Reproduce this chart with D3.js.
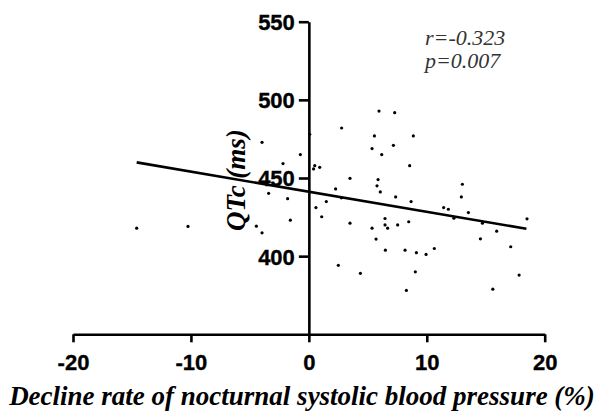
<!DOCTYPE html>
<html>
<head>
<meta charset="utf-8">
<script src="https://cdn.jsdelivr.net/npm/d3@7"></script>
<style>
  body { margin: 0; background: #fff; }
  svg { display: block; }
</style>
</head>
<body>
<svg id="scatter" width="609" height="412"></svg>
<script>
// decline rate of nocturnal SBP (%)
const declineRate = [
  -14.6, -10.25, -3.97, -0.72, -2.19, -3.41, -1.8, -1.57, -4.45, -3.97,
  0.07, 0.4, 0.5, 0.92, 2.78, 5.95, 7.28, 5.56, 8.86, 7.17,
  5.36, 6.18, 8.55, 3.49, 5.87, 5.78, 6.06, 2.27, 7.36, 8.67,
  1.48, 0.6, 2.76, 1.09, 3.49, 6.46, 6.46, 6.68, 5.36, 7.53,
  8.47, 5.7, 6.49, 8.16, 9.12, 2.5, 4.37, 9.03, 8.27, 9.94,
  10.64, 11.43, 11.83, 12.3, 13.02, 12.93, 13.53, 14.55, 14.72, 15.93,
  15.6, 17.12, 17.83, 18.5,
];
// QTc (ms)
const qtc = [
  417.9, 419, 472.8, 465, 459.2, 440.2, 436.8, 423, 419.2, 414.9,
  478, 455.8, 457.9, 456.8, 482, 492.8, 491.8, 476.9, 476.9, 470.9,
  468.8, 465, 457.9, 449.8, 449, 445, 441.1, 443, 437.9, 434.9,
  434.9, 431.1, 437.3, 425.2, 421.1, 424.1, 420, 417.9, 417.9, 420,
  422, 410.9, 403.8, 403.8, 402.2, 394.1, 389, 390, 378.1, 401.1,
  404.9, 431.1, 430, 424.3, 446, 437.9, 427.9, 411.1, 421.1, 416,
  378.9, 406, 387.9, 423.9,
];
// fitted line end points
const fitX = [-14.6, 18.45];
const fitY = [460, 417.5];

const xTicks = [-20, -10, 0, 10, 20];
const yTicks = [400, 450, 500, 550];
const xDomain = [-20, 20];
const yDomain = [350, 550];
const statLines = ['r=-0.323', 'p=0.007'];

const ScatterChart = class {
  static X_RANGE = [73, 544.7];
  static Y_RANGE = [334.3, 21.7];
  static SANS = 'Arial, "Liberation Sans", sans-serif';
  static SERIF = '"Liberation Serif", "Times New Roman", serif';

  constructor(selector) {
    this.svg = d3.select(selector);
    this.x = d3.scaleLinear().domain(xDomain).range(this.constructor.X_RANGE);
    this.y = d3.scaleLinear().domain(yDomain).range(this.constructor.Y_RANGE);
  }

  drawAxes() {
    const x = this.x;
    const y = this.y;
    const plain = (d) => String(d);   // hyphen, not unicode minus

    const xAxis = this.svg.append('g')
      .attr('transform', `translate(0,${y(yDomain[0])})`)
      .call(d3.axisBottom(x).tickValues(xTicks).tickFormat(plain).tickSize(8).tickSizeOuter(0));
    const yAxis = this.svg.append('g')
      .attr('transform', `translate(${x(0)},0)`)
      .call(d3.axisLeft(y).tickValues(yTicks).tickFormat(plain).tickSize(10).tickSizeOuter(0).tickPadding(4));

    [xAxis, yAxis].forEach((axis) => {
      axis.attr('font-family', this.constructor.SANS).attr('font-size', 22);
      axis.select('.domain').attr('stroke', '#000').attr('stroke-width', 2.6);
      axis.selectAll('.tick line').attr('stroke', '#000').attr('stroke-width', 2.6);
      axis.selectAll('.tick text')
        .attr('fill', '#000')
        .attr('font-weight', 'bold')
        .attr('stroke', '#000')
        .attr('stroke-width', 0.35);
    });
    xAxis.selectAll('.tick text').attr('y', 36).attr('dy', 0);
    yAxis.selectAll('.tick text').attr('dy', '0.36em');
  }

  drawPoints() {
    const points = declineRate.map((d, i) => ({x: d, y: qtc[i]}));
    this.svg.append('g')
      .selectAll('circle')
      .data(points)
      .join('circle')
      .attr('cx', (d) => this.x(d.x))
      .attr('cy', (d) => this.y(d.y))
      .attr('r', 1.6)
      .attr('fill', '#000');
  }

  drawFit() {
    const line = d3.line()
      .x((d) => this.x(d[0]))
      .y((d) => this.y(d[1]));
    this.svg.append('path')
      .datum(d3.zip(fitX, fitY))
      .attr('d', line)
      .attr('fill', 'none')
      .attr('stroke', '#000')
      .attr('stroke-width', 2.6);
  }

  drawLabels() {
    const serif = this.constructor.SERIF;

    this.svg.append('text')
      .attr('x', 302)
      .attr('y', 405)
      .attr('text-anchor', 'middle')
      .attr('font-family', serif)
      .attr('font-weight', 'bold')
      .attr('font-style', 'italic')
      .attr('font-size', 27)
      .text('Decline rate of nocturnal systolic blood pressure (%)');

    this.svg.append('text')
      .attr('transform', 'translate(245,180) rotate(-90)')
      .attr('text-anchor', 'middle')
      .attr('font-family', serif)
      .attr('font-weight', 'bold')
      .attr('font-style', 'italic')
      .attr('font-size', 27)
      .text('QTc (ms)');

    this.svg.append('g')
      .selectAll('text')
      .data(statLines)
      .join('text')
      .attr('x', 425)
      .attr('y', (d, i) => 45 + i * 23)
      .attr('font-family', serif)
      .attr('font-style', 'italic')
      .attr('font-size', 22)
      .attr('fill', '#333')
      .text((d) => d);
  }
};

const chart = new ScatterChart('#scatter');
chart.drawAxes();
chart.drawFit();
chart.drawPoints();
chart.drawLabels();
</script>
</body>
</html>
